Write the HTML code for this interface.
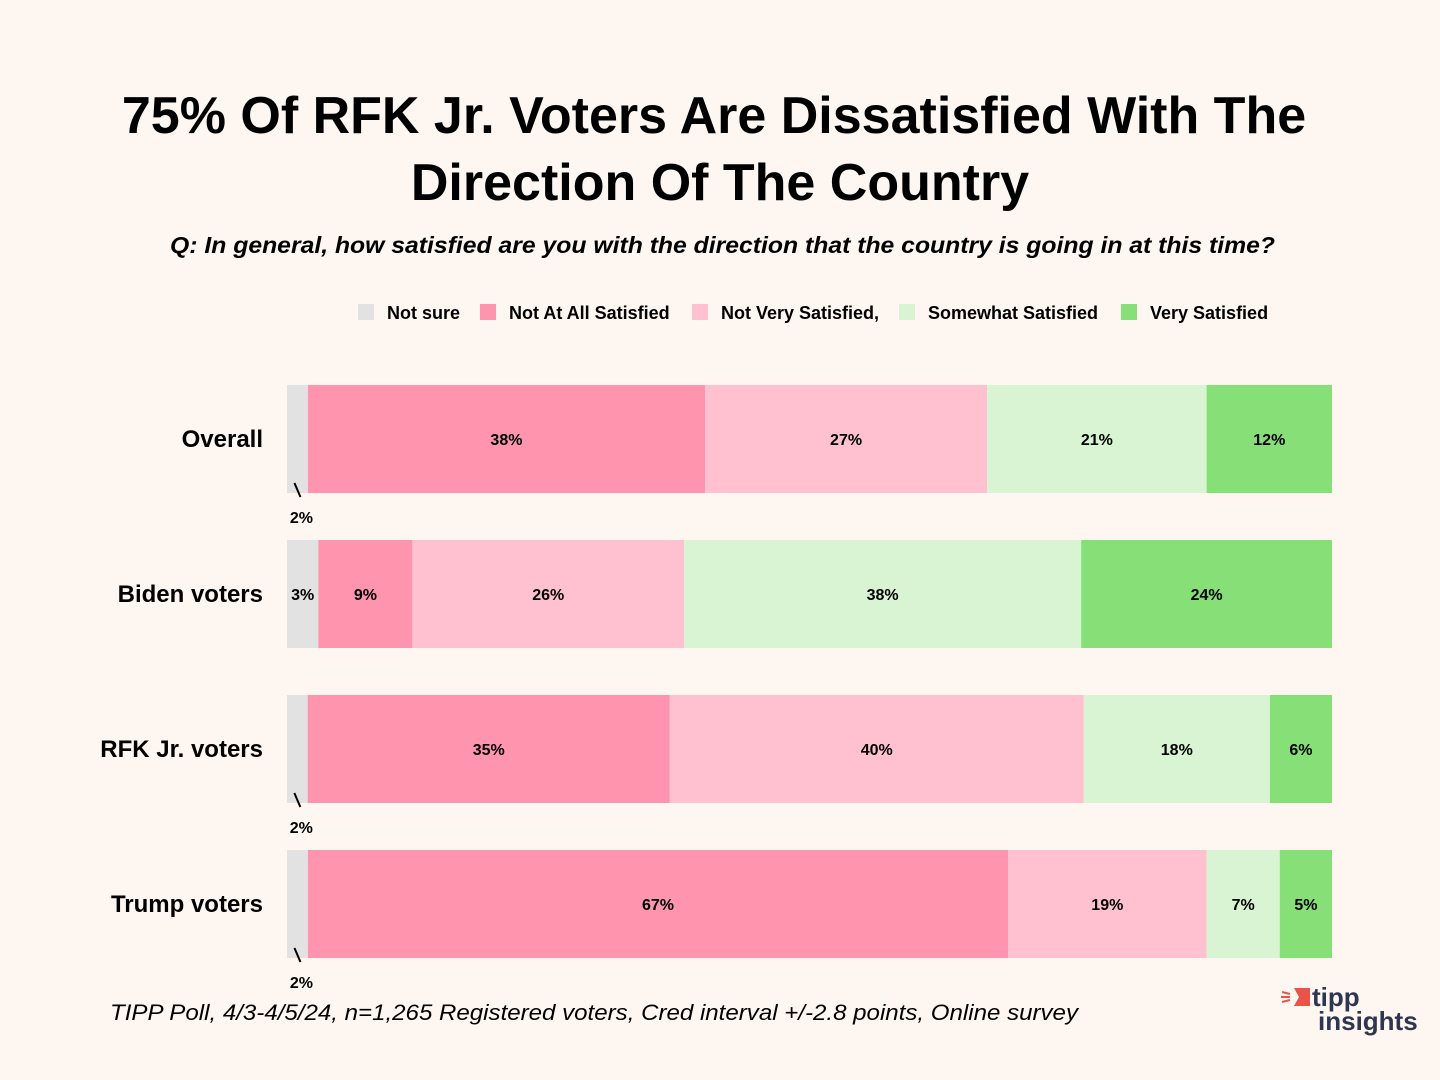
<!DOCTYPE html>
<html><head><meta charset="utf-8"><style>
html,body{margin:0;padding:0;background:#fdf6f1;}
svg{display:block;font-family:"Liberation Sans",sans-serif;}
</style></head><body>
<svg id="chart" width="1440" height="1080" viewBox="0 0 1440 1080">
<rect width="1440" height="1080" fill="#fdf6f1"/>
<text x="714" y="133" text-anchor="middle" font-size="52" font-weight="bold" fill="#000">75% Of RFK Jr. Voters Are Dissatisfied With The</text>
<text x="720" y="200" text-anchor="middle" font-size="52" font-weight="bold" fill="#000">Direction Of The Country</text>
<text x="170" y="253" textLength="1105" lengthAdjust="spacingAndGlyphs" font-size="23" font-weight="bold" font-style="italic" fill="#000">Q: In general, how satisfied are you with the direction that the country is going in at this time?</text>
<g id="legend"></g>
<g id="bars"></g>
<text x="110" y="1020" textLength="968" lengthAdjust="spacingAndGlyphs" font-size="22" font-style="italic" fill="#000">TIPP Poll, 4/3-4/5/24, n=1,265 Registered voters, Cred interval +/-2.8 points, Online survey</text>
<g>
<path d="M1294 988 L1310 988 L1310 1006 L1294 1006 L1299 997 Z" fill="#e8534a"/>
<path d="M1282 992 l8 2 M1281 997 l9 0 M1282 1002 l8 -2" stroke="#e8534a" stroke-width="2"/>
<text x="1312" y="1006" font-size="26" font-weight="bold" fill="#2f3650">tipp</text>
<text x="1318" y="1030" font-size="26" font-weight="bold" fill="#2f3650">insights</text>
</g>
</svg>
<script>
const categories = ["Overall","Biden voters","RFK Jr. voters","Trump voters"];
const seriesNames = ["Not sure","Not At All Satisfied","Not Very Satisfied,","Somewhat Satisfied","Very Satisfied"];
const notSure = [2,3,2,2];
const notAtAll = [38,9,35,67];
const notVery = [27,26,40,19];
const somewhat = [21,38,18,7];
const very = [12,24,6,5];
const colors = ["#e2e2e2","#ff94ae","#ffc1cf","#d8f4d2","#86df77"];
const series = [notSure,notAtAll,notVery,somewhat,very];
const NS="http://www.w3.org/2000/svg";
const x0=287,x1=1332,rowTop=385,rowStep=155,barH=108;
const bars=document.getElementById('bars'), legend=document.getElementById('legend');
function mk(tag,attrs,parent){const e=document.createElementNS(NS,tag);for(const k in attrs)e.setAttribute(k,attrs[k]);parent.appendChild(e);return e;}
const legX=[358,480,692,899,1121];
seriesNames.forEach((n,i)=>{
  const r=mk('rect',{x:legX[i],y:304,width:16,height:16,fill:colors[i]},legend);
  
  
  const t=mk('text',{x:legX[i]+29,y:319,'font-size':18,'font-weight':'bold',fill:'#000'},legend);
  t.textContent=n;
  
  
});
categories.forEach((c,ci)=>{
  const y=rowTop+ci*rowStep;
  const total=series.reduce((s,a)=>s+a[ci],0);
  const lab=mk('text',{x:263,y:y+barH/2+8,'text-anchor':'end','font-size':24,'font-weight':'bold',fill:'#000'},bars);
  lab.textContent=c;
  
  
  let acc=0;
  series.forEach((arr,si)=>{
    const v=arr[ci];
    const xs=x0+(x1-x0)*acc/total, w=(x1-x0)*v/total;
    acc+=v;
    const r=mk('rect',{x:xs,y:y,width:w,height:barH,fill:colors[si]},bars);
    
    
    if(w>=30){
      const t=mk('text',{x:xs+w/2,y:y+barH/2+6,'text-anchor':'middle','font-size':16,'font-weight':'bold',fill:'#000'},bars);
      t.textContent=v+'%';
      
      
    } else {
      const cx=xs+w/2;
      const l=mk('line',{x1:cx-3,y1:y+barH-10,x2:cx+3,y2:y+barH+4,stroke:'#000','stroke-width':2},bars);
      
      
      const t=mk('text',{x:cx+4,y:y+barH+30,'text-anchor':'middle','font-size':16,'font-weight':'bold',fill:'#000'},bars);
      t.textContent=v+'%';
      
      
    }
  });
});
</script>
</body></html>
